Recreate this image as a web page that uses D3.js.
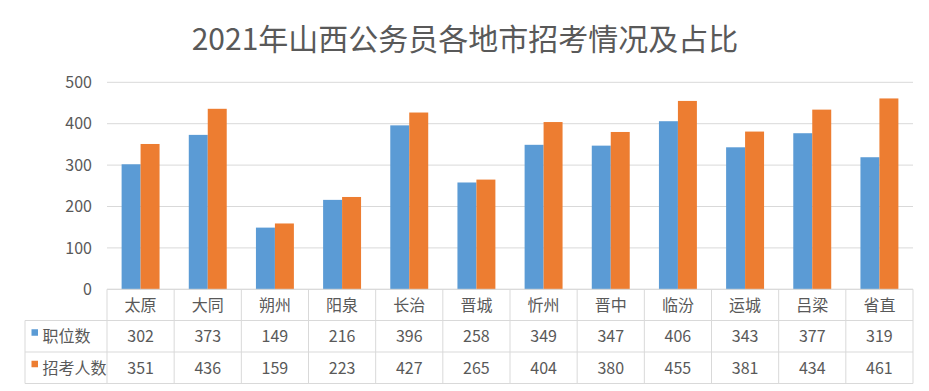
<!DOCTYPE html>
<html><head><meta charset="utf-8">
<script src="https://cdn.jsdelivr.net/npm/d3@7"></script>
<style>body{margin:0;background:#fff;} svg{display:block;}</style>
</head><body>
<svg id="c" width="929" height="391"></svg>
<script>
const title = "2021年山西公务员各地市招考情况及占比";
const categories = ["太原","大同","朔州","阳泉","长治","晋城","忻州","晋中","临汾","运城","吕梁","省直"];
const seriesNames = ["职位数","招考人数"];
const positions = [302,373,149,216,396,258,349,347,406,343,377,319];
const applicants = [351,436,159,223,427,265,404,380,455,381,434,461];
const yTicks = [0,100,200,300,400,500];
const colors = ["#5B9BD5","#ED7D31"];
const series = [positions, applicants];

(function(){
const svg = d3.select("#c");
const font = "'Noto Sans CJK SC','Microsoft YaHei',sans-serif";
const pLeft = 107, pRight = 913, pTop = 82.3, pBottom = 289.3;
const tableLeft = 25;
const rowH = [289.3, 320.5, 352, 383.5];

svg.append("text").attr("x", 465).attr("y", 50).attr("text-anchor","middle")
  .attr("font-family", font).attr("font-size", 30).attr("fill","#595959").text(title);

const x = d3.scaleBand().domain(categories).range([pLeft, pRight]).paddingInner(0).paddingOuter(0);
const x1 = d3.scaleBand().domain([0,1]).range([0, x.bandwidth()]).paddingInner(0).paddingOuter(0.77);
const y = d3.scaleLinear().domain([0,500]).range([pBottom, pTop]);

svg.append("g").selectAll("line").data(yTicks).join("line")
  .attr("x1", pLeft).attr("x2", pRight).attr("y1", d=>y(d)).attr("y2", d=>y(d))
  .attr("stroke","#D9D9D9").attr("stroke-width",1);

const yAxis = d3.axisLeft(y).tickValues(yTicks).tickSize(0).tickPadding(0);
const gy = svg.append("g").attr("transform", `translate(92,0)`).call(yAxis);
gy.select(".domain").remove();
gy.selectAll("text").attr("font-family", font).attr("font-size", 16).attr("fill","#595959");

const g = svg.append("g");
categories.forEach((c, i) => {
  series.forEach((s, j) => {
    g.append("rect").attr("x", x(c) + x1(j)).attr("width", x1.bandwidth())
      .attr("y", y(s[i])).attr("height", y(0) - y(s[i])).attr("fill", colors[j]);
  });
});

const tg = svg.append("g").attr("stroke","#D9D9D9").attr("stroke-width",1).attr("fill","none");
tg.append("line").attr("x1", pLeft).attr("x2", pRight).attr("y1", rowH[0]).attr("y2", rowH[0]);
[1,2,3].forEach(k => tg.append("line").attr("x1", tableLeft).attr("x2", pRight).attr("y1", rowH[k]).attr("y2", rowH[k]));
tg.append("line").attr("x1", tableLeft).attr("x2", tableLeft).attr("y1", rowH[1]).attr("y2", rowH[3]);
categories.forEach(c => tg.append("line").attr("x1", x(c)).attr("x2", x(c)).attr("y1", rowH[0]).attr("y2", rowH[3]));
tg.append("line").attr("x1", pRight).attr("x2", pRight).attr("y1", rowH[0]).attr("y2", rowH[3]);

const txt = svg.append("g").attr("font-family", font).attr("font-size", 16).attr("fill","#595959");
categories.forEach((c, i) => {
  txt.append("text").attr("x", x(c) + x.bandwidth()/2).attr("y", (rowH[0]+rowH[1])/2).attr("dy","0.36em")
    .attr("text-anchor","middle").text(c);
  series.forEach((s, j) => {
    txt.append("text").attr("x", x(c) + x.bandwidth()/2).attr("y", (rowH[j+1]+rowH[j+2])/2).attr("dy","0.36em")
      .attr("text-anchor","middle").text(s[i]);
  });
});
seriesNames.forEach((n, j) => {
  const cy = (rowH[j+1]+rowH[j+2])/2;
  svg.append("rect").attr("x", 31.5).attr("y", cy - 7).attr("width", 6.5).attr("height", 6.5).attr("fill", colors[j]);
  txt.append("text").attr("x", 42.5).attr("y", cy).attr("dy","0.36em").text(n);
});
})();
</script>
</body></html>
